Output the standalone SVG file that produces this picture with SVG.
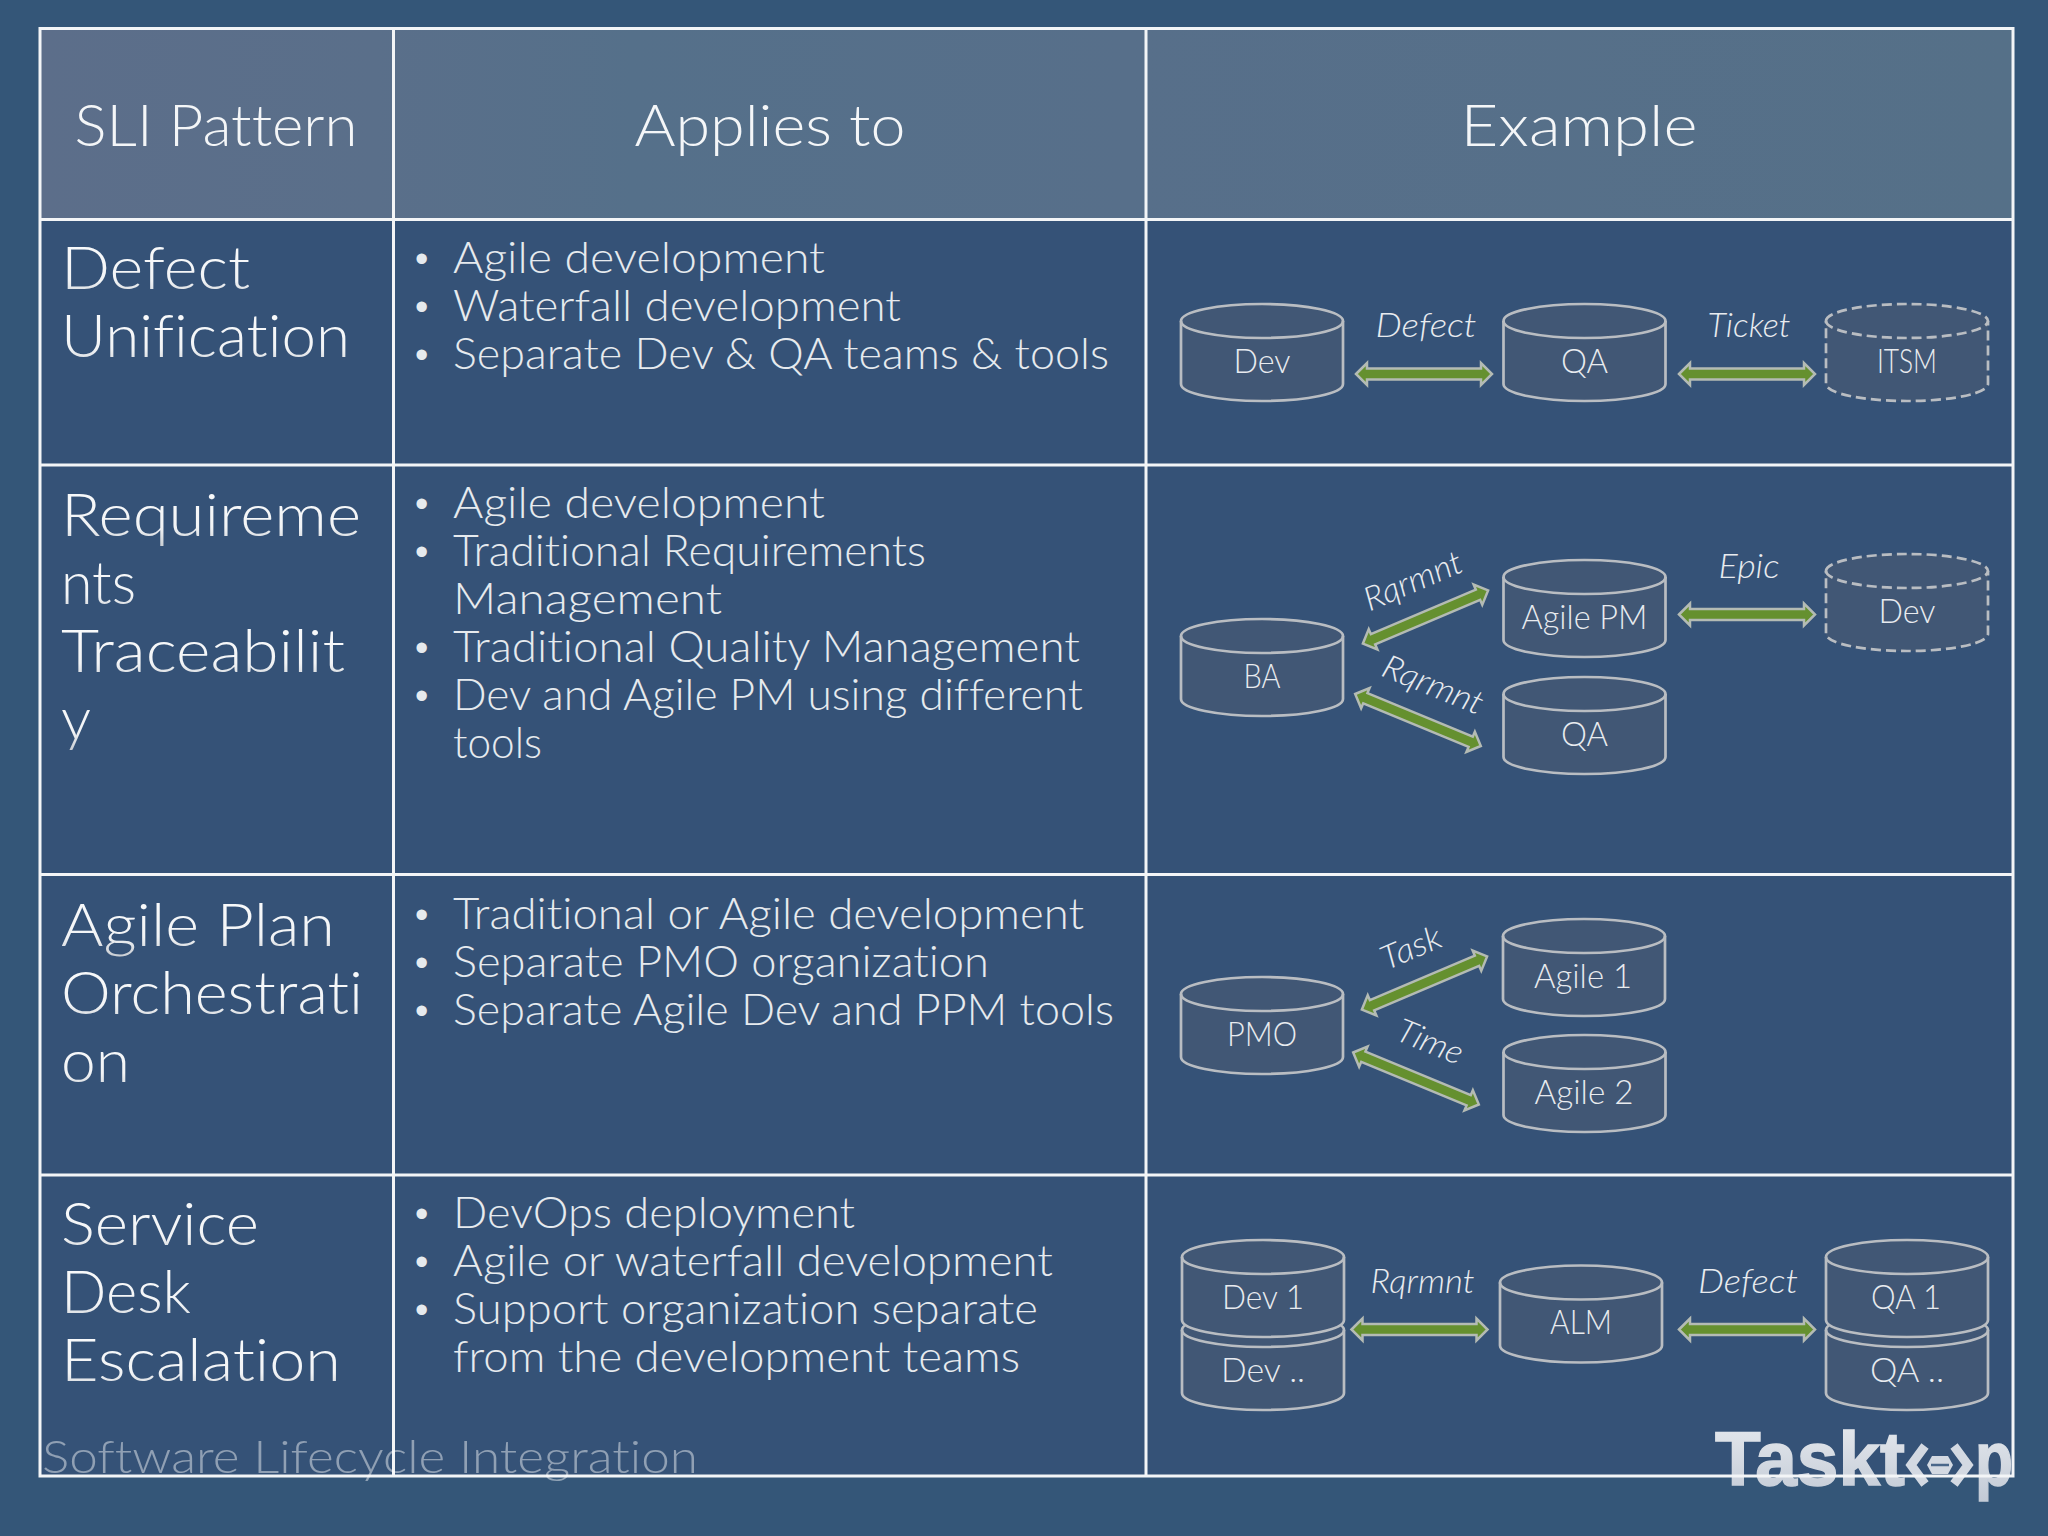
<svg xmlns="http://www.w3.org/2000/svg" width="2048" height="1536" viewBox="0 0 2048 1536">
<style>
text{font-family:"Lato","Liberation Sans",sans-serif;font-weight:300;font-variant-ligatures:none}
.hd{font-size:58px;fill:#f4f6f8;text-anchor:middle}
.rl{font-size:60px;fill:url(#tg)}
.bt{font-size:43px;fill:#e6eaee}
.bl{font-size:38px;fill:#e6eaee;font-family:"Liberation Sans",sans-serif}
.nl{font-size:33px;fill:#e8ebef;text-anchor:middle}
.cl{font-size:33px;fill:#e8ebef;text-anchor:middle;font-style:italic}
.cyl{fill:#415775;stroke:#b9bdc2;stroke-width:2.700}
.dash{stroke-dasharray:10 5}
.grid{stroke:#f3f5f7;stroke-width:3;fill:none}
.arrow{fill:#65902f;stroke:#b4bbb4;stroke-width:2.500;stroke-linejoin:miter}
.logo{font-family:"Liberation Sans",sans-serif;font-weight:700;fill:url(#lg);stroke:url(#lg);stroke-width:1.500}
</style>
<defs>
<linearGradient id="tg" x1="0" y1="0" x2="0" y2="1"><stop offset="0" stop-color="#fbfcfd"/><stop offset="0.7" stop-color="#f2f4f6"/><stop offset="1" stop-color="#c4c9cf"/></linearGradient>
<linearGradient id="hg" x1="0" y1="0" x2="1" y2="0"><stop offset="0" stop-color="#5c6e8a"/><stop offset="0.17" stop-color="#5a6f8a"/><stop offset="0.3" stop-color="#55708a"/><stop offset="0.55" stop-color="#576f8a"/><stop offset="1" stop-color="#557088"/></linearGradient>
<linearGradient id="lg" x1="0" y1="0" x2="0" y2="1"><stop offset="0" stop-color="#e8ebef"/><stop offset="1" stop-color="#c2cad6"/></linearGradient>
<g id="cylinder"><path d="M0,17 A81,17 0 0 1 162,17 V80 A81,17 0 0 1 0,80 Z"/><path d="M0,17 A81,17 0 0 0 162,17" fill="none"/></g>
<polygon id="dbl-arrow" points="-68,0 -57,-11 -57,-5.500 57,-5.500 57,-11 68,0 57,11 57,5.500 -57,5.500 -57,11"/>
</defs>

<rect width="2048" height="1536" fill="#345678"/>
<rect x="40" y="28" width="1973" height="1448" fill="#355277"/>
<rect x="40" y="28" width="1973" height="191" fill="url(#hg)"/>

<g id="logo">
<text class="logo" x="1715" y="1485" font-size="76" textLength="190" lengthAdjust="spacingAndGlyphs">Taskt</text>
<path d="M1925,1446 L1911,1465 L1925,1484 M1954,1446 L1968,1465 L1954,1484" fill="none" stroke="#d3d9e2" stroke-width="9"/>
<polygon points="1932,1456 1948,1456 1953,1465 1948,1474 1932,1474 1927,1465" fill="#d3d9e2"/>
<path d="M1931,1465 H1949" stroke="#4a678a" stroke-width="2.500"/>
<text class="logo" x="1975" y="1485" font-size="76" textLength="38" lengthAdjust="spacingAndGlyphs">p</text>
</g>

<g id="table" class="grid">
<rect x="40" y="28.500" width="1973" height="1447.500"/>
<path d="M393.500,28.500 V1476 M1146,28.500 V1476 M40,219.500 H2013 M40,465 H2013 M40,874.500 H2013 M40,1175 H2013"/>
</g>

<g id="headers">
<text class="hd" x="216" y="145.500" textLength="283" lengthAdjust="spacingAndGlyphs">SLI Pattern</text>
<text class="hd" x="770" y="145.500" textLength="271" lengthAdjust="spacingAndGlyphs">Applies to</text>
<text class="hd" x="1579" y="145.500" textLength="237" lengthAdjust="spacingAndGlyphs">Example</text>
</g>

<g id="row-labels">
<text class="rl" x="61" y="289" textLength="189" lengthAdjust="spacingAndGlyphs">Defect</text>
<text class="rl" x="61" y="357" textLength="289" lengthAdjust="spacingAndGlyphs">Unification</text>
<text class="rl" x="61" y="535.500" textLength="300" lengthAdjust="spacingAndGlyphs">Requireme</text>
<text class="rl" x="61" y="603.500" textLength="75" lengthAdjust="spacingAndGlyphs">nts</text>
<text class="rl" x="61" y="671.500" textLength="284" lengthAdjust="spacingAndGlyphs">Traceabilit</text>
<text class="rl" x="61" y="739.500" textLength="30" lengthAdjust="spacingAndGlyphs">y</text>
<text class="rl" x="61" y="945.500" textLength="274" lengthAdjust="spacingAndGlyphs">Agile Plan</text>
<text class="rl" x="61" y="1013.500" textLength="302" lengthAdjust="spacingAndGlyphs">Orchestrati</text>
<text class="rl" x="61" y="1081.500" textLength="69" lengthAdjust="spacingAndGlyphs">on</text>
<text class="rl" x="61" y="1245" textLength="198" lengthAdjust="spacingAndGlyphs">Service</text>
<text class="rl" x="61" y="1313" textLength="130" lengthAdjust="spacingAndGlyphs">Desk</text>
<text class="rl" x="61" y="1381" textLength="280" lengthAdjust="spacingAndGlyphs">Escalation</text>
</g>

<g id="applies-to">
<text class="bl" x="415" y="272">•</text><text class="bt" x="453" y="273" textLength="372" lengthAdjust="spacingAndGlyphs">Agile development</text>
<text class="bl" x="415" y="320">•</text><text class="bt" x="453" y="321" textLength="448" lengthAdjust="spacingAndGlyphs">Waterfall development</text>
<text class="bl" x="415" y="368">•</text><text class="bt" x="453" y="369" textLength="656" lengthAdjust="spacingAndGlyphs">Separate Dev &amp; QA teams &amp; tools</text>

<text class="bl" x="415" y="517">•</text><text class="bt" x="453" y="518" textLength="372" lengthAdjust="spacingAndGlyphs">Agile development</text>
<text class="bl" x="415" y="565">•</text><text class="bt" x="453" y="566" textLength="473" lengthAdjust="spacingAndGlyphs">Traditional Requirements</text>
<text class="bt" x="453" y="614" textLength="269" lengthAdjust="spacingAndGlyphs">Management</text>
<text class="bl" x="415" y="661">•</text><text class="bt" x="453" y="662" textLength="627" lengthAdjust="spacingAndGlyphs">Traditional Quality Management</text>
<text class="bl" x="415" y="709">•</text><text class="bt" x="453" y="710" textLength="630" lengthAdjust="spacingAndGlyphs">Dev and Agile PM using different</text>
<text class="bt" x="453" y="758" textLength="89" lengthAdjust="spacingAndGlyphs">tools</text>

<text class="bl" x="415" y="928">•</text><text class="bt" x="453" y="928.500" textLength="631" lengthAdjust="spacingAndGlyphs">Traditional or Agile development</text>
<text class="bl" x="415" y="976">•</text><text class="bt" x="453" y="976.500" textLength="536" lengthAdjust="spacingAndGlyphs">Separate PMO organization</text>
<text class="bl" x="415" y="1024">•</text><text class="bt" x="453" y="1024.500" textLength="661" lengthAdjust="spacingAndGlyphs">Separate Agile Dev and PPM tools</text>

<text class="bl" x="415" y="1227">•</text><text class="bt" x="453" y="1228" textLength="402" lengthAdjust="spacingAndGlyphs">DevOps deployment</text>
<text class="bl" x="415" y="1275">•</text><text class="bt" x="453" y="1276" textLength="600" lengthAdjust="spacingAndGlyphs">Agile or waterfall development</text>
<text class="bl" x="415" y="1323">•</text><text class="bt" x="453" y="1324" textLength="585" lengthAdjust="spacingAndGlyphs">Support organization separate</text>
<text class="bt" x="453" y="1372" textLength="567" lengthAdjust="spacingAndGlyphs">from the development teams</text>
</g>

<g id="connectors" class="arrow">
<use href="#dbl-arrow" transform="translate(1424,374)"/>
<use href="#dbl-arrow" transform="translate(1747,374)"/>
<use href="#dbl-arrow" transform="translate(1747,614.500)"/>
<use href="#dbl-arrow" transform="translate(1425.500,617) rotate(-23)"/>
<use href="#dbl-arrow" transform="translate(1418,720) rotate(22.500)"/>
<use href="#dbl-arrow" transform="translate(1424.500,983) rotate(-23)"/>
<use href="#dbl-arrow" transform="translate(1416,1078.500) rotate(22.500)"/>
<use href="#dbl-arrow" transform="translate(1419.500,1329.500)"/>
<use href="#dbl-arrow" transform="translate(1747,1329.500)"/>
</g>

<g id="connector-labels">
<text class="cl" x="1426" y="337" textLength="101" lengthAdjust="spacingAndGlyphs">Defect</text>
<text class="cl" x="1749" y="337" textLength="83" lengthAdjust="spacingAndGlyphs">Ticket</text>
<text class="cl" x="1749" y="578" textLength="61" lengthAdjust="spacingAndGlyphs">Epic</text>
<text class="cl" transform="translate(1413,581) rotate(-23)" y="11" textLength="104" lengthAdjust="spacingAndGlyphs">Rqrmnt</text>
<text class="cl" transform="translate(1433,685) rotate(22)" y="11" textLength="106" lengthAdjust="spacingAndGlyphs">Rqrmnt</text>
<text class="cl" transform="translate(1411,948) rotate(-23)" y="11" textLength="63" lengthAdjust="spacingAndGlyphs">Task</text>
<text class="cl" transform="translate(1430,1042) rotate(22)" y="11" textLength="69" lengthAdjust="spacingAndGlyphs">Time</text>
<text class="cl" x="1422.500" y="1293" textLength="104" lengthAdjust="spacingAndGlyphs">Rqrmnt</text>
<text class="cl" x="1748" y="1293" textLength="100" lengthAdjust="spacingAndGlyphs">Defect</text>
</g>

<g id="node-dev-1"><use href="#cylinder" class="cyl" x="1181" y="304"/><text class="nl" x="1262" y="373" textLength="57" lengthAdjust="spacingAndGlyphs">Dev</text></g>
<g id="node-qa-1"><use href="#cylinder" class="cyl" x="1503.500" y="304"/><text class="nl" x="1584.500" y="373" textLength="47" lengthAdjust="spacingAndGlyphs">QA</text></g>
<g id="node-itsm"><use href="#cylinder" class="cyl dash" x="1826" y="304"/><text class="nl" x="1907" y="373" textLength="60" lengthAdjust="spacingAndGlyphs">ITSM</text></g>

<g id="node-ba"><use href="#cylinder" class="cyl" x="1181" y="619"/><text class="nl" x="1262" y="688" textLength="37" lengthAdjust="spacingAndGlyphs">BA</text></g>
<g id="node-agile-pm"><use href="#cylinder" class="cyl" x="1503.500" y="560"/><text class="nl" x="1584.500" y="629" textLength="126" lengthAdjust="spacingAndGlyphs">Agile PM</text></g>
<g id="node-qa-2"><use href="#cylinder" class="cyl" x="1503.500" y="677"/><text class="nl" x="1584.500" y="746" textLength="47" lengthAdjust="spacingAndGlyphs">QA</text></g>
<g id="node-dev-2"><use href="#cylinder" class="cyl dash" x="1826" y="554"/><text class="nl" x="1907" y="623" textLength="57" lengthAdjust="spacingAndGlyphs">Dev</text></g>

<g id="node-pmo"><use href="#cylinder" class="cyl" x="1181" y="977"/><text class="nl" x="1262" y="1046" textLength="70" lengthAdjust="spacingAndGlyphs">PMO</text></g>
<g id="node-agile-1"><use href="#cylinder" class="cyl" x="1503" y="919"/><text class="nl" x="1583" y="988" textLength="98" lengthAdjust="spacingAndGlyphs">Agile 1</text></g>
<g id="node-agile-2"><use href="#cylinder" class="cyl" x="1503.500" y="1035"/><text class="nl" x="1584" y="1104" textLength="99" lengthAdjust="spacingAndGlyphs">Agile 2</text></g>

<g id="node-dev-dots"><use href="#cylinder" class="cyl" x="1182" y="1313"/><text class="nl" x="1263" y="1382" textLength="84" lengthAdjust="spacingAndGlyphs">Dev ..</text></g>
<g id="node-dev-one"><use href="#cylinder" class="cyl" x="1182" y="1240"/><text class="nl" x="1263" y="1309" textLength="82" lengthAdjust="spacingAndGlyphs">Dev 1</text></g>
<g id="node-alm"><use href="#cylinder" class="cyl" x="1500" y="1265.500"/><text class="nl" x="1581" y="1334" textLength="62" lengthAdjust="spacingAndGlyphs">ALM</text></g>
<g id="node-qa-dots"><use href="#cylinder" class="cyl" x="1826" y="1313"/><text class="nl" x="1907" y="1382" textLength="74" lengthAdjust="spacingAndGlyphs">QA ..</text></g>
<g id="node-qa-one"><use href="#cylinder" class="cyl" x="1826" y="1240"/><text class="nl" x="1906" y="1309" textLength="70" lengthAdjust="spacingAndGlyphs">QA 1</text></g>

<text id="footer" x="42" y="1473" font-size="46" fill="#ffffff" fill-opacity="0.45" textLength="656" lengthAdjust="spacingAndGlyphs">Software Lifecycle Integration</text>
</svg>
